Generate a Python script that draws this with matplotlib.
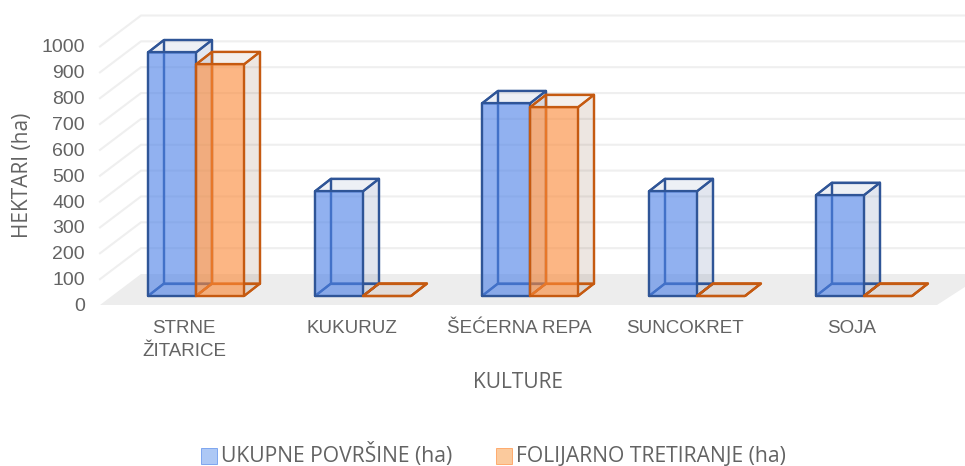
import matplotlib
matplotlib.use("Agg")
import matplotlib.pyplot as plt
from matplotlib.patches import Polygon, Rectangle

# data
categories = ["STRNE\nŽITARICE", "KUKURUZ", "ŠEĆERNA REPA", "SUNCOKRET", "SOJA"]
ukupne = [942, 405, 745, 405, 390]
folijarno = [896, 0, 730, 0, 0]
yticks = [0, 100, 200, 300, 400, 500, 600, 700, 800, 900, 1000]

W, H = 965, 466
PX_X = 167.0      # pixels per category
PX_Y = 0.2585     # pixels per hectare
X0, Y0 = 196, 296 # pixel of category 0, value 0 on the bar front plane

BAR_W = 48 / PX_X
DX = 16 / PX_X    # depth of a bar
DY = 12.5 / PX_Y

BLUE, BLUE_E, BLUE_S = "#4F84EA", "#2F5597", "#3F5F99"
ORANGE, ORANGE_E, ORANGE_S = "#FF8C3A", "#C55A11", "#8A5A3A"
GREY = "#636363"


def px(x, y):
    # pixel position -> data position, only for furniture and text
    return (x - X0) / PX_X, (Y0 - y) / PX_Y


def bar3d(ax, x, v, color, edge, side, z):
    w, dx, dy = BAR_W, DX, DY
    back = [
        ([(x + dx, dy), (x + w + dx, dy), (x + w + dx, v + dy), (x + dx, v + dy)], 0.05),  # back
        ([(x, 0), (x + dx, dy), (x + dx, v + dy), (x, v)], 0.05),                          # left
        ([(x, 0), (x + w, 0), (x + w + dx, dy), (x + dx, dy)], 0.07),                      # floor
        ([(x + w, 0), (x + w + dx, dy), (x + w + dx, v + dy), (x + w, v)], 0.10),          # side
        ([(x, v), (x + w, v), (x + w + dx, v + dy), (x + dx, v + dy)], 0.04),              # top
    ]
    for pts, a in back:
        ax.add_patch(Polygon(pts, closed=True, facecolor=side, alpha=a, edgecolor="none", zorder=z))
        ax.add_patch(Polygon(pts, closed=True, fill=False, edgecolor=edge, lw=1.6,
                             joinstyle="round", zorder=z + 0.1))
    front = [(x, 0), (x + w, 0), (x + w, v), (x, v)]
    ax.add_patch(Polygon(front, closed=True, facecolor=color, alpha=0.6, edgecolor="none", zorder=z + 0.2))
    ax.add_patch(Polygon(front, closed=True, fill=False, edgecolor=edge, lw=1.6,
                         joinstyle="round", zorder=z + 0.3))


fig = plt.figure(figsize=(W / 100, H / 100), dpi=100)
ax = fig.add_axes([0, 0, 1, 1])
ax.set_xlim(px(0, 0)[0], px(W, 0)[0])
ax.set_ylim(px(0, H)[1], px(0, 0)[1])
ax.axis("off")

# floor and walls
floor = [px(100, 305), px(141, 274), px(985, 274), px(937, 305)]
ax.add_patch(Polygon(floor, closed=True, facecolor="#EDEDED", edgecolor="none", zorder=1))
for t in yticks[1:]:
    yf = 305 - t * PX_Y
    yb = yf - 31
    ax.plot(*zip(px(100, yf), px(141, yb), px(965, yb)), color="#EFEFEF", lw=1.5, zorder=2)

for i, a in enumerate(ukupne):
    bar3d(ax, i - BAR_W, a, BLUE, BLUE_E, BLUE_S, 3)
for i, b in enumerate(folijarno):
    bar3d(ax, i, b, ORANGE, ORANGE_E, ORANGE_S, 4)

# y tick labels
for t in yticks:
    ax.text(*px(85, 306.5 - t * PX_Y), str(t), ha="right", va="center", fontsize=14,
            family="Liberation Sans", color=GREY)

# category labels
cat_x = [184, 352, 519, 685, 852]
for x, c in zip(cat_x, categories):
    ax.text(*px(x, 320), c, ha="center", va="top", fontsize=13.5, family="Liberation Sans",
            color=GREY, linespacing=1.45)

ax.text(*px(23, 175), "HEKTARI (ha)", rotation=90, ha="center", va="center", fontsize=15,
        family="Open Sans", color=GREY)
ax.text(*px(518, 383), "KULTURE", ha="center", va="center", fontsize=15,
        family="Open Sans", color=GREY)

# legend
for x, col, ec, lab in [(201, "#A4C2F4", BLUE, "UKUPNE POVRŠINE (ha)"),
                        (496, "#FBC592", ORANGE, "FOLIJARNO TRETIRANJE (ha)")]:
    x0, y0 = px(x, 464)
    x1, y1 = px(x + 16, 448)
    ax.add_patch(Rectangle((x0, y0), x1 - x0, y1 - y0, facecolor=col, edgecolor=ec, lw=0.5, alpha=0.9))
    ax.text(*px(x + 20, 461.5), lab, ha="left", va="baseline", fontsize=15.2,
            family="Open Sans", color=GREY)

fig.savefig("out.png", dpi=100)
